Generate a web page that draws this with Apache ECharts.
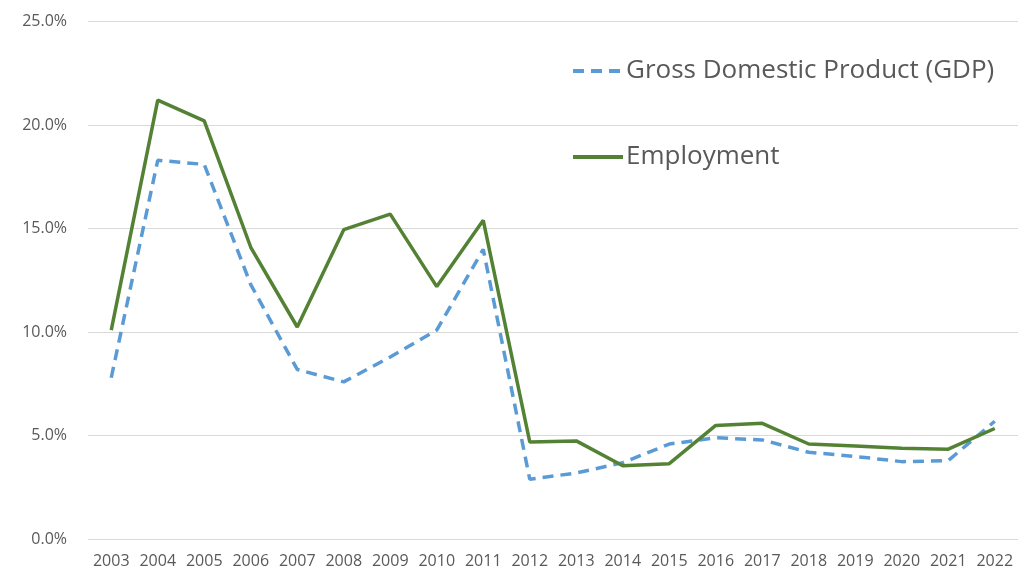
<!DOCTYPE html>
<html>
<head>
<meta charset="utf-8">
<script src="https://cdn.jsdelivr.net/npm/echarts@6/dist/echarts.min.js"></script>
<style>
  html, body { margin: 0; padding: 0; background: #fff; }
  #chart { width: 1029px; height: 571px; }
</style>
</head>
<body>
<div id="chart"></div>
<script>
// 年份
var years = ['2003', '2004', '2005', '2006', '2007', '2008', '2009', '2010', '2011', '2012',
  '2013', '2014', '2015', '2016', '2017', '2018', '2019', '2020', '2021', '2022'];
// GDP 增长率 (%)
var gdp = [7.8, 18.3, 18.1, 12.3, 8.2, 7.6, 8.8, 10.1, 14.0, 2.9,
  3.2, 3.7, 4.6, 4.9, 4.8, 4.2, 4.0, 3.75, 3.8, 5.7];
// 就业增长率 (%)
var employment = [10.1, 21.2, 20.2, 14.1, 10.25, 14.95, 15.7, 12.2, 15.4, 4.7,
  4.75, 3.55, 3.65, 5.5, 5.6, 4.6, 4.5, 4.4, 4.35, 5.35];
var seriesNames = ['Gross Domestic Product (GDP)', 'Employment'];

var myChart = echarts.init(document.getElementById('chart'));
var option = {
  backgroundColor: '#ffffff',
  animation: false,
  grid: {
    left: 88,
    right: 11,
    top: 21.5,
    bottom: 31.7
  },
  legend: {
    orient: 'vertical',
    left: 566,
    top: 53,
    itemGap: 60,
    itemWidth: 50,
    itemHeight: 14,
    itemStyle: { opacity: 0 },
    lineStyle: { width: 4 },
    textStyle: {
      color: '#595959',
      fontSize: 26,
      fontFamily: 'Open Sans',
      padding: [0, 0, 0, -2]
    },
    data: seriesNames
  },
  xAxis: {
    type: 'category',
    data: years,
    axisLine: { show: false },
    axisTick: { show: false },
    axisLabel: {
      color: '#595959',
      fontSize: 16,
      fontFamily: 'Open Sans',
      margin: 14,
      interval: 0
    }
  },
  yAxis: {
    type: 'value',
    min: 0,
    max: 25,
    interval: 5,
    axisLine: { show: false },
    axisTick: { show: false },
    axisLabel: {
      color: '#595959',
      fontSize: 16,
      fontFamily: 'Open Sans',
      margin: 21,
      formatter: function (v) { return v.toFixed(1) + '%'; }
    },
    splitLine: {
      lineStyle: { color: '#d9d9d9', width: 1 }
    }
  },
  series: [{
    name: seriesNames[0],
    type: 'line',
    data: gdp,
    symbol: 'none',
    lineStyle: {
      color: '#5b9bd5',
      width: 3.5,
      type: [11, 7]
    },
    itemStyle: { color: '#5b9bd5' },
    z: 2
  }, {
    name: seriesNames[1],
    type: 'line',
    data: employment,
    symbol: 'none',
    lineStyle: {
      color: '#548235',
      width: 3.5
    },
    itemStyle: { color: '#548235' },
    z: 3
  }]
};
myChart.setOption(option);
</script>
</body>
</html>
